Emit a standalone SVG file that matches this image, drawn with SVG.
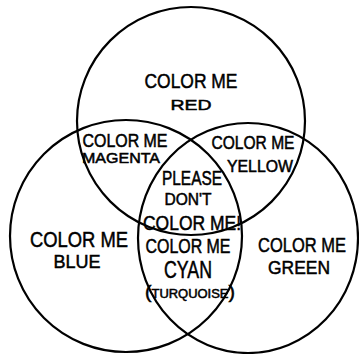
<svg xmlns="http://www.w3.org/2000/svg" width="359" height="354" viewBox="0 0 359 354">
<style>
.c{fill:none;stroke:#000;stroke-width:2.2}
text{font-family:"Liberation Sans",Arial,sans-serif;fill:#000;stroke:#000;stroke-width:0.5;text-anchor:middle}
</style>
<rect width="359" height="354" fill="#fff"/>
<g id="connectors"></g>
<g id="circle-red"><circle class="c" cx="191" cy="121" r="114"/></g>
<g id="circle-blue"><circle class="c" cx="126" cy="236" r="116"/></g>
<g id="circle-green"><ellipse class="c" cx="248" cy="238" rx="110" ry="115"/></g>
<g id="region-red">
<text x="191" y="88" font-size="21" textLength="93" lengthAdjust="spacingAndGlyphs">COLOR ME</text>
<text x="191" y="110" font-size="15" textLength="41" lengthAdjust="spacingAndGlyphs">RED</text>
</g>
<g id="region-magenta">
<text x="125" y="147" font-size="18" textLength="85" lengthAdjust="spacingAndGlyphs">COLOR ME</text>
<text x="121" y="163" font-size="14" textLength="78" lengthAdjust="spacingAndGlyphs">MAGENTA</text>
</g>
<g id="region-yellow">
<text x="253" y="149" font-size="18" textLength="83" lengthAdjust="spacingAndGlyphs">COLOR ME</text>
<text x="260" y="172" font-size="16" textLength="66" lengthAdjust="spacingAndGlyphs">YELLOW</text>
</g>
<g id="region-center">
<text x="192" y="185" font-size="20" textLength="60" lengthAdjust="spacingAndGlyphs">PLEASE</text>
<text x="188" y="205" font-size="16" textLength="47" lengthAdjust="spacingAndGlyphs">DON'T</text>
<text x="192" y="230" font-size="20" textLength="98" lengthAdjust="spacingAndGlyphs">COLOR ME!</text>
</g>
<g id="region-cyan">
<text x="188" y="253" font-size="20" textLength="85" lengthAdjust="spacingAndGlyphs">COLOR ME</text>
<text x="188" y="278" font-size="24" textLength="48" lengthAdjust="spacingAndGlyphs">CYAN</text>
<text x="190" y="298" font-size="12" textLength="90" lengthAdjust="spacingAndGlyphs"><tspan font-size="18">(</tspan>TURQUOISE<tspan font-size="18">)</tspan></text>
</g>
<g id="region-blue">
<text x="79" y="247" font-size="22" textLength="98" lengthAdjust="spacingAndGlyphs">COLOR ME</text>
<text x="77" y="268" font-size="18" textLength="47" lengthAdjust="spacingAndGlyphs">BLUE</text>
</g>
<g id="region-green">
<text x="302" y="252" font-size="21" textLength="88" lengthAdjust="spacingAndGlyphs">COLOR ME</text>
<text x="299" y="274" font-size="19" textLength="62" lengthAdjust="spacingAndGlyphs">GREEN</text>
</g>
</svg>
